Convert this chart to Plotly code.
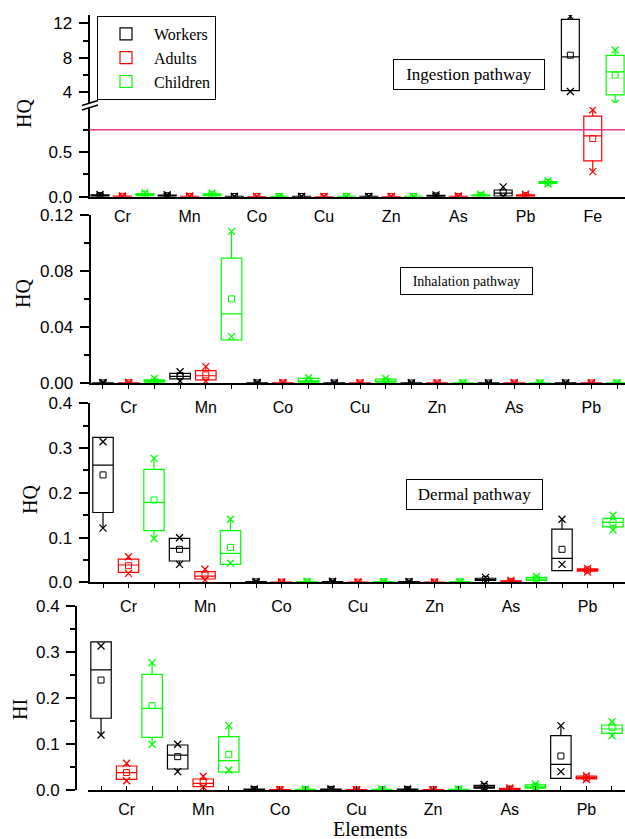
import plotly.graph_objects as go

W, H = 625, 839


def px(x):
    return x / W


def py(y):
    return 1 - y / H


GROUPS = ["Workers", "Adults", "Children"]
COLORS = ["#000000", "#ff0000", "#00ff00"]

ELEMENTS_ING = ["Cr", "Mn", "Co", "Cu", "Zn", "As", "Pb", "Fe"]
ELEMENTS = ["Cr", "Mn", "Co", "Cu", "Zn", "As", "Pb"]

# ---------------- Ingestion pathway (rows: Workers, Adults, Children) ----------------
ing_min = [[0.004, 0.004, 0.001, 0.001, 0.001, 0.003, 0.005, 4.1],
           [0.001, 0.001, 0.0003, 0.0003, 0.0003, 0.001, 0.004, 0.28],
           [0.008, 0.008, 0.001, 0.001, 0.001, 0.006, 0.142, 2.7]]
ing_q1 = [[0.006, 0.006, 0.001, 0.001, 0.001, 0.004, 0.008, 4.2],
          [0.002, 0.002, 0.0005, 0.0005, 0.0005, 0.002, 0.006, 0.40],
          [0.012, 0.012, 0.001, 0.001, 0.001, 0.008, 0.150, 3.7]]
ing_med = [[0.012, 0.010, 0.002, 0.002, 0.002, 0.008, 0.040, 8.1],
           [0.004, 0.003, 0.001, 0.001, 0.001, 0.003, 0.012, 0.68],
           [0.022, 0.020, 0.002, 0.002, 0.002, 0.014, 0.160, 6.36]]
ing_q3 = [[0.020, 0.018, 0.003, 0.003, 0.003, 0.015, 0.075, 12.46],
          [0.006, 0.005, 0.0015, 0.0015, 0.0015, 0.005, 0.022, 0.90],
          [0.035, 0.032, 0.003, 0.003, 0.003, 0.022, 0.170, 8.27]]
ing_max = [[0.025, 0.022, 0.004, 0.004, 0.004, 0.020, 0.110, 12.8],
           [0.008, 0.007, 0.002, 0.002, 0.002, 0.007, 0.028, 0.97],
           [0.045, 0.042, 0.004, 0.004, 0.004, 0.028, 0.178, 8.9]]
ing_mean = [[0.013, 0.011, 0.002, 0.002, 0.002, 0.009, 0.045, 8.3],
            [0.004, 0.003, 0.001, 0.001, 0.001, 0.003, 0.013, 0.65],
            [0.024, 0.022, 0.002, 0.002, 0.002, 0.015, 0.160, 6.0]]
ING_REF_LINE = 0.75

# ---------------- Inhalation pathway ----------------
inh_min = [[0.0001, 0.0015, 0.0001, 0.0001, 0.0001, 0.0001, 0.0001],
           [0.0001, 0.0015, 0.0001, 0.0001, 0.0001, 0.0001, 0.0001],
           [0.0005, 0.0333, 0.0005, 0.0005, 0.0001, 0.0001, 0.0001]]
inh_q1 = [[0.0002, 0.0031, 0.0002, 0.0001, 0.0001, 0.0001, 0.0001],
          [0.0002, 0.0024, 0.0002, 0.0001, 0.0001, 0.0001, 0.0001],
          [0.0008, 0.0309, 0.0008, 0.0008, 0.0001, 0.0001, 0.0001]]
inh_med = [[0.0003, 0.0050, 0.0003, 0.0002, 0.0002, 0.0002, 0.0002],
           [0.0003, 0.0054, 0.0003, 0.0002, 0.0002, 0.0002, 0.0002],
           [0.0015, 0.0495, 0.0018, 0.0015, 0.0002, 0.0002, 0.0002]]
inh_q3 = [[0.0004, 0.0071, 0.0004, 0.0003, 0.0003, 0.0003, 0.0003],
          [0.0004, 0.0090, 0.0004, 0.0003, 0.0003, 0.0003, 0.0003],
          [0.0025, 0.0893, 0.0035, 0.0030, 0.0003, 0.0003, 0.0003]]
inh_max = [[0.0006, 0.0082, 0.0006, 0.0004, 0.0004, 0.0004, 0.0004],
           [0.0006, 0.0119, 0.0006, 0.0004, 0.0004, 0.0004, 0.0004],
           [0.0035, 0.1083, 0.0040, 0.0035, 0.0004, 0.0004, 0.0004]]
inh_mean = [[0.0003, 0.0055, 0.0003, 0.0002, 0.0002, 0.0002, 0.0002],
            [0.0003, 0.0060, 0.0003, 0.0002, 0.0002, 0.0002, 0.0002],
            [0.0016, 0.0602, 0.0019, 0.0016, 0.0002, 0.0002, 0.0002]]

# ---------------- Dermal pathway ----------------
der_min = [[0.121, 0.040, 0.0003, 0.0005, 0.0004, 0.003, 0.040],
           [0.020, 0.005, 0.0001, 0.0001, 0.0001, 0.0008, 0.023],
           [0.098, 0.0425, 0.0003, 0.0003, 0.0003, 0.003, 0.117]]
der_q1 = [[0.156, 0.0476, 0.0005, 0.0008, 0.0006, 0.004, 0.026],
          [0.022, 0.0074, 0.0002, 0.0002, 0.0002, 0.001, 0.025],
          [0.1153, 0.040, 0.0005, 0.0005, 0.0005, 0.004, 0.124]]
der_med = [[0.262, 0.076, 0.001, 0.0012, 0.001, 0.006, 0.0536],
           [0.0387, 0.014, 0.0004, 0.0004, 0.0004, 0.002, 0.0275],
           [0.1788, 0.0648, 0.001, 0.001, 0.001, 0.007, 0.134]]
der_q3 = [[0.324, 0.098, 0.0015, 0.0018, 0.0015, 0.009, 0.119],
          [0.052, 0.0237, 0.0006, 0.0006, 0.0006, 0.003, 0.030],
          [0.2525, 0.1153, 0.0015, 0.0015, 0.0015, 0.011, 0.143]]
der_max = [[0.314, 0.0997, 0.002, 0.0022, 0.002, 0.011, 0.1408],
           [0.057, 0.029, 0.0008, 0.0008, 0.0008, 0.004, 0.031],
           [0.277, 0.1408, 0.002, 0.002, 0.002, 0.013, 0.150]]
der_mean = [[0.240, 0.0737, 0.001, 0.0012, 0.001, 0.0065, 0.0737],
            [0.037, 0.0163, 0.0004, 0.0004, 0.0004, 0.002, 0.0275],
            [0.184, 0.078, 0.001, 0.001, 0.001, 0.0075, 0.134]]

# ---------------- Hazard index ----------------
hi_min = [[0.1196, 0.0399, 0.0004, 0.0006, 0.0005, 0.003, 0.040],
          [0.020, 0.006, 0.0001, 0.0001, 0.0001, 0.001, 0.023],
          [0.0993, 0.0435, 0.0003, 0.0003, 0.0003, 0.003, 0.118]]
hi_q1 = [[0.156, 0.0457, 0.0006, 0.0008, 0.0007, 0.004, 0.0254],
         [0.0232, 0.0072, 0.0002, 0.0002, 0.0002, 0.0012, 0.024],
         [0.1145, 0.039, 0.0005, 0.0005, 0.0005, 0.004, 0.1232]]
hi_med = [[0.261, 0.076, 0.0012, 0.0013, 0.0012, 0.007, 0.0558],
          [0.0377, 0.0145, 0.0004, 0.0004, 0.0004, 0.0022, 0.027],
          [0.1775, 0.0638, 0.001, 0.001, 0.001, 0.007, 0.1326]]
hi_q3 = [[0.322, 0.0978, 0.0018, 0.002, 0.0018, 0.010, 0.118],
         [0.0522, 0.0239, 0.0006, 0.0006, 0.0006, 0.0035, 0.030],
         [0.2514, 0.116, 0.0015, 0.0015, 0.0015, 0.011, 0.1413]]
hi_max = [[0.313, 0.0993, 0.0022, 0.0024, 0.0022, 0.012, 0.140],
          [0.058, 0.030, 0.0008, 0.0008, 0.0008, 0.0045, 0.031],
          [0.2768, 0.140, 0.002, 0.002, 0.002, 0.013, 0.1485]]
hi_mean = [[0.239, 0.0725, 0.0012, 0.0013, 0.0012, 0.0075, 0.0739],
           [0.038, 0.0167, 0.0004, 0.0004, 0.0004, 0.0022, 0.027],
           [0.1833, 0.0775, 0.001, 0.001, 0.001, 0.0075, 0.1355]]

SERIF = "Liberation Serif"
SANS = "Liberation Sans"

fig = go.Figure()


def add_panel(mins, q1s, meds, q3s, maxs, means, xa, ya, legend=False):
    for g, name in enumerate(GROUPS):
        n = len(q1s[g])
        pos = [3 * i + g for i in range(n)]
        lo = [min(a, b) for a, b in zip(q1s[g], mins[g])]
        hi = [max(a, b) for a, b in zip(q3s[g], maxs[g])]
        fig.add_trace(go.Box(
            x=pos, q1=q1s[g], median=meds[g], q3=q3s[g],
            lowerfence=lo, upperfence=hi, width=0.8,
            name=name, legendgroup=name, showlegend=legend,
            line=dict(color=COLORS[g], width=1.2),
            fillcolor="rgba(0,0,0,0)", whiskerwidth=0,
            boxpoints=False, xaxis=xa, yaxis=ya, hoverinfo="skip"))
        fig.add_trace(go.Scatter(
            x=pos + pos, y=mins[g] + maxs[g], mode="markers",
            marker=dict(symbol="x-thin-open", size=7, color=COLORS[g],
                        line=dict(color=COLORS[g], width=1.3)),
            showlegend=False, legendgroup=name, xaxis=xa, yaxis=ya,
            hoverinfo="skip"))
        fig.add_trace(go.Scatter(
            x=pos, y=means[g], mode="markers",
            marker=dict(symbol="square-open", size=6, color=COLORS[g],
                        line=dict(color=COLORS[g], width=1)),
            showlegend=False, legendgroup=name, xaxis=xa, yaxis=ya,
            hoverinfo="skip"))


add_panel(ing_min, ing_q1, ing_med, ing_q3, ing_max, ing_mean, "x", "y", legend=True)
add_panel(ing_min, ing_q1, ing_med, ing_q3, ing_max, ing_mean, "x", "y2")
add_panel(inh_min, inh_q1, inh_med, inh_q3, inh_max, inh_mean, "x3", "y3")
add_panel(der_min, der_q1, der_med, der_q3, der_max, der_mean, "x4", "y4")
add_panel(hi_min, hi_q1, hi_med, hi_q3, hi_max, hi_mean, "x5", "y5")

tickfont = dict(family=SANS, size=16, color="black")
ytickfont = dict(family=SANS, size=17, color="black")


def xax(domain, rng, labels, anchor, ticks):
    n = len(labels)
    vals = list(range(3 * n))
    text = [labels[v // 3] if v % 3 == 1 else "" for v in vals]
    return dict(domain=domain, range=rng, anchor=anchor, showgrid=False,
                zeroline=False, showline=True, linecolor="black", linewidth=2,
                tickmode="array", tickvals=vals, ticktext=text,
                ticks=ticks, ticklen=4, tickwidth=1.2, tickcolor="black",
                tickfont=tickfont, ticklabelstandoff=4, automargin=False)


def yax(domain, rng, vals, fmt_vals, minor_vals, anchor="x", position=None):
    d = dict(domain=domain, range=rng, anchor=anchor, showgrid=False,
             zeroline=False, showline=True, linecolor="black", linewidth=2,
             tickmode="array", tickvals=vals, ticktext=fmt_vals,
             ticks="outside", ticklen=9, tickwidth=2, tickcolor="black",
             tickfont=ytickfont, ticklabelstandoff=3, automargin=False,
             minor=dict(tickmode="array", tickvals=minor_vals, ticks="outside",
                        ticklen=5, tickwidth=1.5, tickcolor="black", showgrid=False))
    if position is not None:
        d["position"] = position
    return d


layout = dict(
    width=W, height=H, margin=dict(l=0, r=0, t=0, b=0, pad=0, autoexpand=False),
    paper_bgcolor="white", plot_bgcolor="rgba(0,0,0,0)", boxmode="overlay",
    xaxis=xax([px(89.5), 1], [-0.47, 23.44], ELEMENTS_ING, "y", ""),
    yaxis=yax([py(196.7), py(107)], [0, 1.003], [0, 0.5], ["0.0", "0.5"], [0.25, 0.75]),
    yaxis2=yax([py(103), py(15)], [2.76, 12.96], [4, 8, 12], ["4", "8", "12"], [6, 10]),
    xaxis3=xax([px(90.5), 1], [-0.486, 20.31], ELEMENTS, "y3", "outside"),
    yaxis3=yax([py(383.3), py(215)], [0, 0.12], [0, 0.04, 0.08, 0.12],
               ["0.00", "0.04", "0.08", "0.12"], [0.02, 0.06, 0.10], anchor="x3"),
    xaxis4=xax([px(89.5), 1], [-0.53, 20.47], ELEMENTS, "y4", "outside"),
    yaxis4=yax([py(582.3), py(403.3)], [0, 0.4], [0, 0.1, 0.2, 0.3, 0.4],
               ["0.0", "0.1", "0.2", "0.3", "0.4"], [0.05, 0.15, 0.25, 0.35], anchor="x4"),
    xaxis5=xax([px(88), 1], [-0.51, 20.51], ELEMENTS, "y5", "inside"),
    yaxis5=yax([py(790), py(606)], [0, 0.4], [0, 0.1, 0.2, 0.3, 0.4],
               ["0.0", "0.1", "0.2", "0.3", "0.4"], [0.05, 0.15, 0.25, 0.35],
               anchor="free", position=px(76)),
    legend=dict(x=px(97), y=py(16), xanchor="left", yanchor="top",
                bordercolor="black", borderwidth=1, bgcolor="white",
                font=dict(family=SERIF, size=16, color="black"),
                tracegroupgap=0, itemwidth=46),
    showlegend=True,
)
fig.update_layout(**layout)

# reference line in ingestion panel
fig.add_shape(type="line", xref="x domain", yref="y", x0=0, x1=1,
              y0=ING_REF_LINE, y1=ING_REF_LINE, line=dict(color="#ee3a8c", width=1.5))

# axis break marks
for yy in (103, 107.5):
    fig.add_shape(type="line", xref="paper", yref="paper",
                  x0=px(82), x1=px(98), y0=py(yy + 2.5), y1=py(yy - 2.5),
                  line=dict(color="black", width=1.5))

# y titles
for txt, xx, yy in [("HQ", 24, 113), ("HQ", 23, 294), ("HQ", 30, 500), ("HI", 20, 710)]:
    fig.add_annotation(text=txt, x=px(xx), y=py(yy), xref="paper", yref="paper",
                       xanchor="center", yanchor="middle",
                       showarrow=False, textangle=-90,
                       font=dict(family=SERIF, size=20, color="black"))

fig.add_annotation(text="Elements", x=px(370), y=py(829), xref="paper", yref="paper",
                   xanchor="center", yanchor="middle",
                   showarrow=False, font=dict(family=SERIF, size=20, color="black"))

# pathway labels
for txt, cx, cy, w, h, fs in [("Ingestion pathway", 469, 74.5, 148, 27, 17),
                              ("Inhalation pathway", 466.5, 281, 129, 24, 14),
                              ("Dermal pathway", 474.5, 494.5, 133, 27, 17)]:
    fig.add_annotation(text=txt, x=px(cx), y=py(cy), xref="paper", yref="paper",
                       xanchor="center", yanchor="middle",
                       showarrow=False, width=w, height=h, borderpad=1,
                       bordercolor="black", borderwidth=1, bgcolor="white",
                       font=dict(family=SERIF, size=fs, color="black"))

fig.write_html("out.html")
